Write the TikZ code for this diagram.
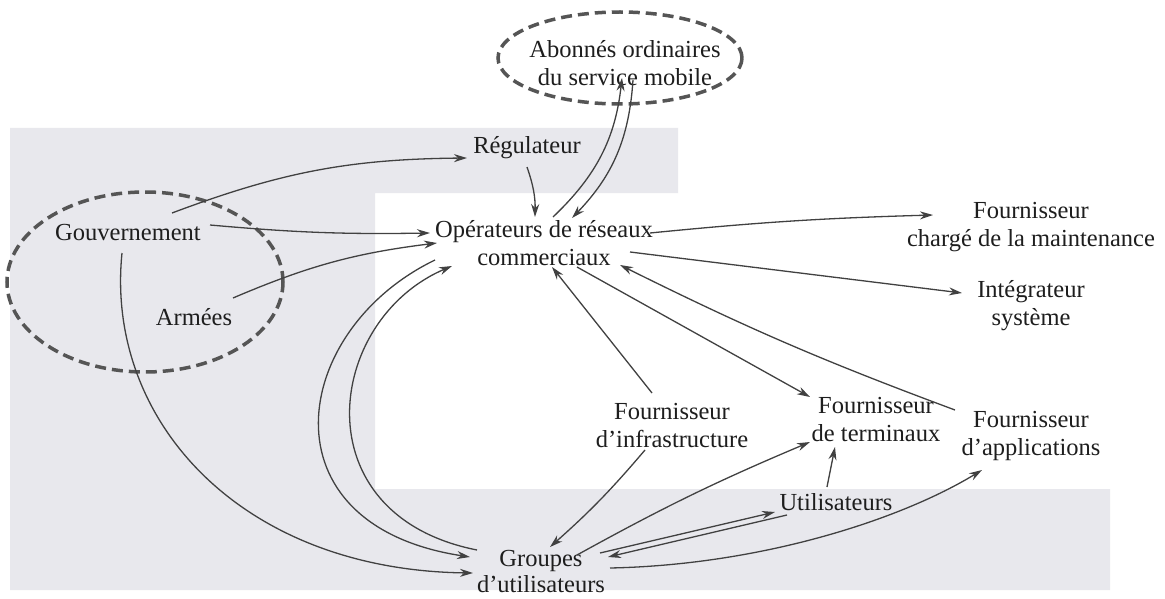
\documentclass[tikz,border=0pt]{standalone}
\usepackage{fontspec}
\setmainfont{Liberation Serif}
\usetikzlibrary{arrows.meta,shapes.geometric,calc}
\definecolor{bggray}{RGB}{232,232,237}
\definecolor{lnk}{RGB}{65,65,65}
\definecolor{dsh}{RGB}{85,85,85}
\definecolor{txt}{RGB}{30,30,30}
\begin{document}
\begin{tikzpicture}[x=1pt,y=-1pt,
  lbl/.style={font=\fontsize{24.5}{28}\selectfont, align=center, inner sep=0pt, text=txt},
  link/.style={draw=lnk, line width=1.3pt, -{Stealth[length=13pt,width=8pt]}},
  group/.style={ellipse, draw=dsh, line width=3.5pt, dash pattern=on 11pt off 6pt}]
\fill[white] (0,0) rectangle (1165,599);
\useasboundingbox (0,0) rectangle (1165,599);
\fill[bggray] (10,128) -- (678,128) -- (678,193) -- (375,193) -- (375,489)
  -- (1110,489) -- (1110,590) -- (10,590) -- cycle;
% groups
\node[group, minimum width=244pt, minimum height=92pt] (abonE) at (620,58) {};
\node[group, minimum width=276pt, minimum height=180pt] (gouvE) at (145,282) {};
% labels
\node[lbl] (abon) at (625,63.5) {Abonnés ordinaires\\du service mobile};
\node[lbl] (reg) at (527,148) {Régulateur};
\node[lbl] (gouv) at (128,233) {Gouvernement};
\node[lbl] (armees) at (194,317) {Armées};
\node[lbl] (op) at (544,243) {Opérateurs de réseaux\\commerciaux};
\node[lbl] (maint) at (1031,227) {Fournisseur\\chargé de la maintenance};
\node[lbl] (integ) at (1031,306) {Intégrateur\\système};
\node[lbl] (infra) at (672,426) {Fournisseur\\d’infrastructure};
\node[lbl] (term) at (876,420) {Fournisseur\\de terminaux};
\node[lbl] (appl) at (1031,436) {Fournisseur\\d’applications};
\node[lbl] (util) at (836,502) {Utilisateurs};
\node[lbl, font=\fontsize{24.5}{26}\selectfont] (grp) at (541,572) {Groupes\\d’utilisateurs};
% connectors
\draw[link] ($(gouv)+(44,-20)$) to[bend left=10] ($(reg)+(-60,10)$);
\draw[link] ($(gouv)+(82,-8)$) to[bend right=3] ($(op)+(-114,-10)$);
\draw[link] ($(armees)+(39,-19)$) to[bend left=8] ($(op)+(-107,0)$);
\draw[link] ($(reg)+(0,19)$) to[bend left=10] ($(op)+(-9,-26)$);
\draw[link] ($(op)+(9,-26)$) to[bend right=20] ($(abon)+(-3,14.5)$);
\draw[link] ($(abon)+(8,16.5)$) to[bend left=20] ($(op)+(28,-25)$);
\draw[link] ($(op)+(106,-10)$) to[bend left=2] ($(maint)+(-98,-12)$);
\draw[link] ($(op)+(86,9)$) -- ($(integ)+(-69,-13)$);
\draw[link] ($(op)+(33,24)$) -- ($(term)+(-66,-23)$);
\draw[link] ($(appl)+(-76,-26)$) to[bend left=3] ($(op)+(76,22)$);
\draw[link] ($(infra)+(-20,-33)$) -- ($(op)+(8,24)$);
\draw[link] ($(infra)+(-27,24)$) to[bend left=4] ($(grp)+(9,-25)$);
\draw[link] ($(op)+(-109,17)$) .. controls (290,330) and (260,525) .. ($(grp)+(-71,-15)$);
\draw[link] ($(grp)+(-64,-22)$) .. controls (300,515) and (325,320) .. ($(op)+(-92,23)$);
\draw[link] ($(gouv)+(-6,20)$) .. controls (105,420) and (240,570) .. ($(grp)+(-68,1)$);
\draw[link] ($(grp)+(36,-17)$) to[bend left=3] ($(term)+(-66,22)$);
\draw[link] ($(grp)+(59,-19)$) -- ($(util)+(-61,10)$);
\draw[link] ($(util)+(-49,13)$) -- ($(grp)+(67,-15)$);
\draw[link] ($(util)+(-9,-15)$) -- ($(term)+(-41,27)$);
\draw[link] ($(grp)+(69,-4)$) .. controls (760,565) and (900,520) .. ($(appl)+(-49,34)$);
\end{tikzpicture}
\end{document}
